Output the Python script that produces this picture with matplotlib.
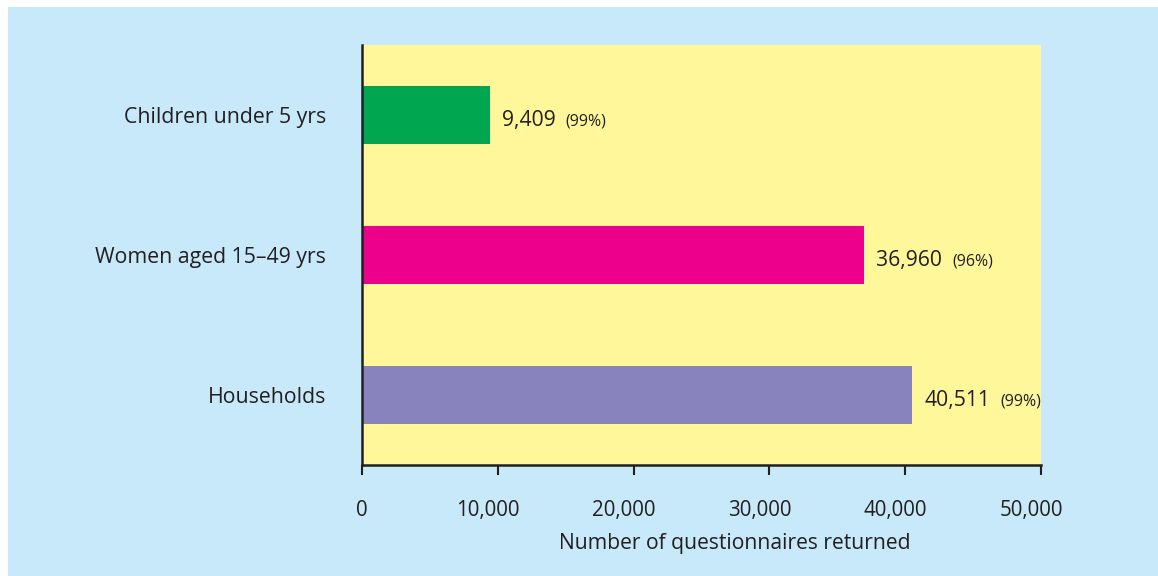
import matplotlib.pyplot as plt
from matplotlib.patches import Rectangle
from matplotlib.transforms import ScaledTranslation

# data
categories = ['Households', 'Women aged 15\u201349 yrs', 'Children under 5 yrs']
values = [40511, 36960, 9409]
percents = ['(99%)', '(96%)', '(99%)']
colors = ['#8882bd', '#ec008c', '#00a650']
xticks = [0, 10000, 20000, 30000, 40000, 50000]

txt = '#231f20'
plt.rcParams['font.family'] = ['Open Sans', 'DejaVu Sans']

fig = plt.figure(figsize=(11.58, 5.76), dpi=100, facecolor='white')
# light blue panel behind everything
fig.patches.append(Rectangle((8 / 1158, 0), 1, 569 / 576, transform=fig.transFigure,
                             facecolor='#c7e9f9', edgecolor='none', zorder=-1))

ax = fig.add_axes([362 / 1158, 111 / 576, 679 / 1158, 420 / 576])
ax.set_facecolor('#fff799')

y = range(len(categories))
ax.barh(y, values, height=0.41, color=colors, zorder=2)

ax.set_xlim(0, 50000)
ax.set_ylim(-0.5, 2.5)
ax.set_xticks(xticks)
ax.set_xticklabels([f'{v:,}' for v in xticks], fontsize=14.8, color=txt)
ax.set_yticks(list(y))
ax.set_yticklabels(categories, fontsize=15.3, color=txt)
ax.tick_params(axis='x', direction='out', length=7, width=1.5, color=txt, pad=18)
ax.tick_params(axis='y', length=0, pad=26)
ax.set_xlabel('Number of questionnaires returned', fontsize=15.2, color=txt, labelpad=9)
ax.xaxis.label.set_x(0.549)

# the original centres the long labels a little to the left of the tick
for lab in ax.get_xticklabels()[1:]:
    lab.set_transform(lab.get_transform() + ScaledTranslation(-0.1, 0, fig.dpi_scale_trans))

for s in ['top', 'right']:
    ax.spines[s].set_visible(False)
for s in ['left', 'bottom']:
    ax.spines[s].set_linewidth(1.8)
    ax.spines[s].set_color(txt)
    ax.spines[s].set_zorder(3)

# value labels
for yi, v, p in zip(y, values, percents):
    t = ax.annotate(f'{v:,}', xy=(v, yi), xytext=(9, -4), textcoords='offset points',
                    va='center', ha='left', fontsize=15.2, color=txt)
    ax.annotate(p, xy=(1, 0), xycoords=t, xytext=(7, 1), textcoords='offset points',
                va='bottom', ha='left', fontsize=11.5, color=txt)

fig.savefig('out.png', dpi=100, facecolor=fig.get_facecolor())
